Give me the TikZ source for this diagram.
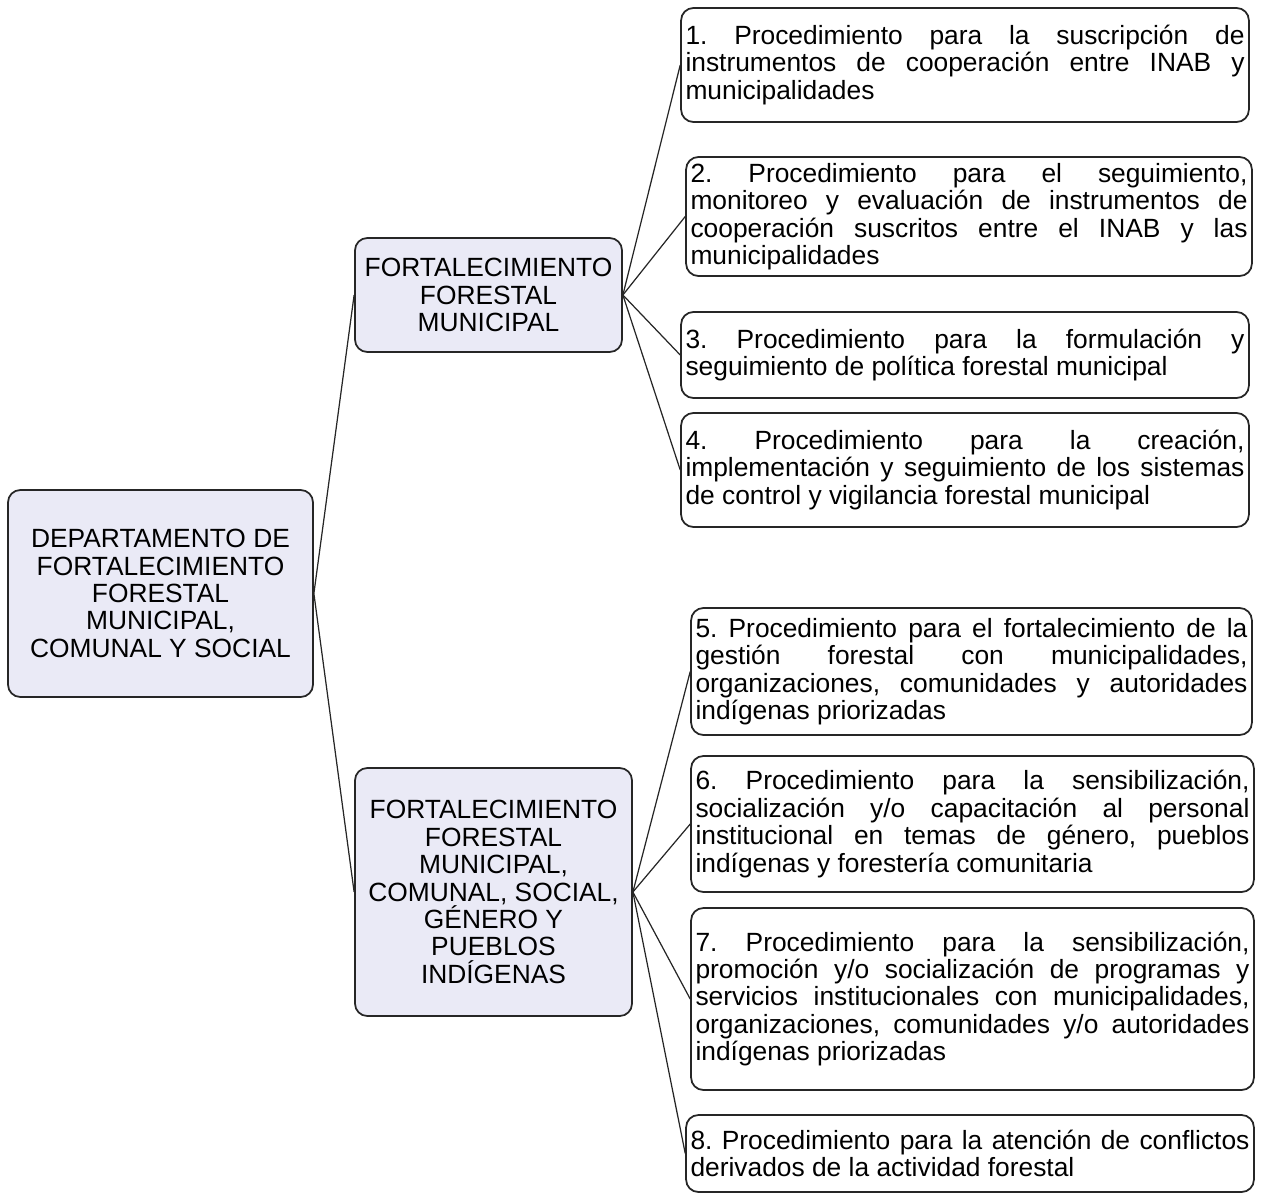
\documentclass[tikz,border=0pt]{standalone}
\usepackage{fontspec}
\setmainfont{Liberation Sans}
\usetikzlibrary{positioning}
\definecolor{catfill}{RGB}{234,234,246}
\hyphenpenalty=10000
\tolerance=10000
\frenchspacing

\begin{document}
\begin{tikzpicture}[
  % Department / area blocks (lavender, centred text)
  catbox/.style={rectangle, rounded corners=7pt, draw=black!85, line width=1pt,
                 fill=catfill, align=center, inner sep=2pt,
                 font=\fontsize{15}{15.6}\selectfont},
  % Procedure blocks (white, justified text)
  procbox/.style={rectangle, rounded corners=7pt, draw=black!85, line width=1pt,
                  fill=white, text width=#1, align=justify, inner xsep=2.5pt,
                  font=\fontsize{15}{15.6}\selectfont\frenchspacing},
  link/.style={line width=0.7pt, black!85}
]
\useasboundingbox (0,0) rectangle (25.26,-23.9);

%% -- Department (left) ------------------------------------------
\node[catbox, minimum width=6.1cm, minimum height=4.14cm] (dept) at (3.21,-11.87)
    {DEPARTAMENTO DE\\FORTALECIMIENTO\\FORESTAL\\MUNICIPAL,\\COMUNAL Y SOCIAL};

%% -- Areas (middle) ---------------------------------------------
\node[catbox, minimum width=5.34cm, minimum height=2.28cm] (ffm) at (9.77,-5.90)
    {FORTALECIMIENTO\\FORESTAL\\MUNICIPAL};
\node[catbox, minimum width=5.54cm, minimum height=4.96cm] (ffc) at (9.87,-17.84)
    {FORTALECIMIENTO\\FORESTAL\\MUNICIPAL,\\COMUNAL, SOCIAL,\\GÉNERO Y\\PUEBLOS\\INDÍGENAS};

\draw[link] (dept.east) -- (ffm.west);
\draw[link] (dept.east) -- (ffc.west);

%% -- Procedures 1-4 (municipal) ---------------------------------
\node[procbox=11.18cm, minimum height=2.28cm] (proc1) at (19.30,-1.30)
    {1. Procedimiento para la suscripción de\linebreak
     instrumentos de cooperación entre INAB y\linebreak
     municipalidades};
\node[procbox=11.14cm, minimum height=2.38cm] (proc2) at (19.38,-4.33)
    {2. Procedimiento para el seguimiento,\linebreak
     monitoreo y evaluación de instrumentos de\linebreak
     cooperación suscritos entre el INAB y las\linebreak
     municipalidades};
\node[procbox=11.18cm, minimum height=1.72cm] (proc3) at (19.30,-7.10)
    {3. Procedimiento para la formulación y\linebreak
     seguimiento de política forestal municipal};
\node[procbox=11.18cm, minimum height=2.28cm] (proc4) at (19.30,-9.40)
    {4. Procedimiento para la creación,\linebreak
     implementación y seguimiento de los sistemas\linebreak
     de control y vigilancia forestal municipal};

\draw[link] (ffm.east) -- (proc1.west);
\draw[link] (ffm.east) -- (proc2.west);
\draw[link] (ffm.east) -- (proc3.west);
\draw[link] (ffm.east) -- (proc4.west);

%% -- Procedures 5-8 (communal, social, gender) ------------------
\node[procbox=11.04cm, minimum height=2.54cm] (proc5) at (19.43,-13.43)
    {5. Procedimiento para el fortalecimiento de la\linebreak
     gestión forestal con municipalidades,\linebreak
     organizaciones, comunidades y autoridades\linebreak
     indígenas priorizadas};
\node[procbox=11.08cm, minimum height=2.72cm] (proc6) at (19.45,-16.48)
    {6. Procedimiento para la sensibilización,\linebreak
     socialización y/o capacitación al personal\linebreak
     institucional en temas de género, pueblos\linebreak
     indígenas y forestería comunitaria};
\node[procbox=11.08cm, minimum height=3.64cm] (proc7) at (19.45,-19.98)
    {7. Procedimiento para la sensibilización,\linebreak
     promoción y/o socialización de programas y\linebreak
     servicios institucionales con municipalidades,\linebreak
     organizaciones, comunidades y/o autoridades\linebreak
     indígenas priorizadas};
\node[procbox=11.18cm, minimum height=1.54cm] (proc8) at (19.40,-23.07)
    {8. Procedimiento para la atención de conflictos\linebreak
     derivados de la actividad forestal};

\draw[link] (ffc.east) -- (proc5.west);
\draw[link] (ffc.east) -- (proc6.west);
\draw[link] (ffc.east) -- (proc7.west);
\draw[link] (ffc.east) -- (proc8.west);

\end{tikzpicture}
\end{document}
